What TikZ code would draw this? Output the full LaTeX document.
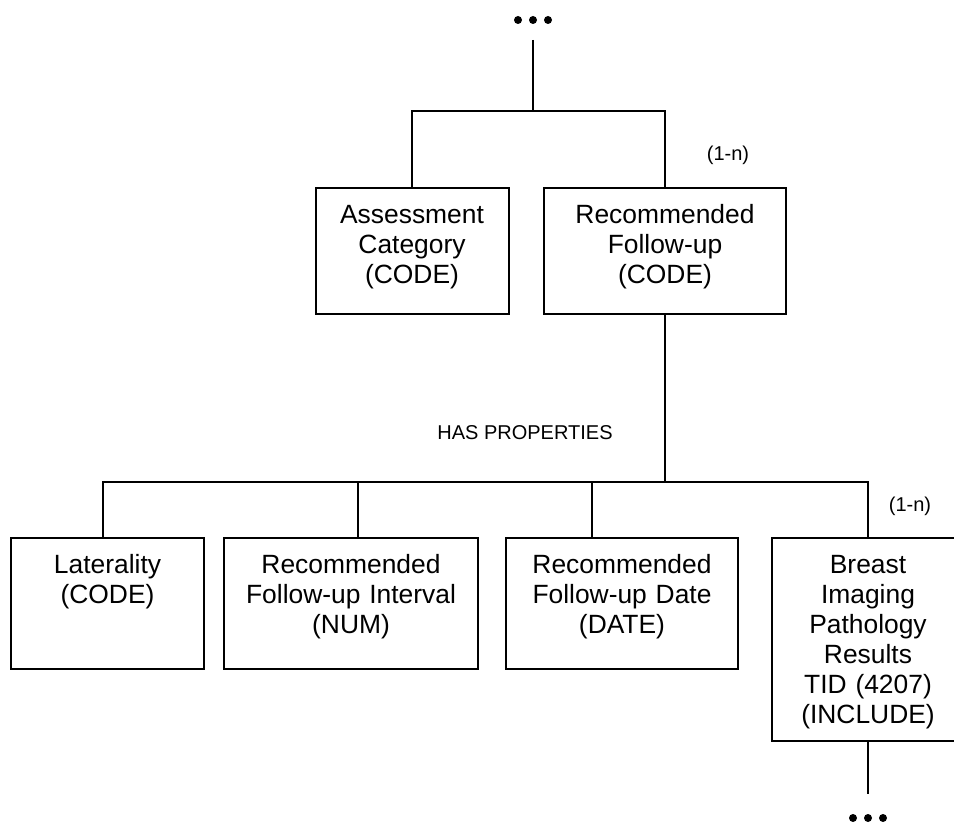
\documentclass[tikz,border=0pt]{standalone}
\usepackage{fontspec}
\setmainfont{Liberation Sans}
\begin{document}
\begin{tikzpicture}[x=0.5pt,y=-0.5pt,
  box/.style={draw, line width=1pt, inner sep=0pt, align=center, anchor=north,
    font=\fontsize{13.2}{15}\selectfont, text height=18pt},
  small/.style={font=\fontsize{10}{12}\selectfont, inner sep=0pt},
  link/.style={line width=1pt},
  dotnode/.style={inner sep=0pt, minimum size=0pt}]
\useasboundingbox (0,0) rectangle (954,823);

% top level boxes
\node[box, text width=96.5pt, text depth=45pt] (asc) at (412,187) {Assessment\\Category\\(CODE)};
\node[box, text width=121pt, text depth=45pt] (rfu) at (665,187) {Recommended\\Follow-up\\(CODE)};

% bottom level boxes
\node[box, text width=96.5pt, text depth=47.5pt] (lat) at (107.5,537) {Laterality\\(CODE)};
\node[box, text width=127pt, text depth=47.5pt] (int) at (351,537) {Recommended\\Follow-up Interval\\(NUM)};
\node[box, text width=116pt, text depth=47.5pt] (dat) at (622,537) {Recommended\\Follow-up Date\\(DATE)};
\node[box, text width=96.5pt, text depth=83.5pt] (bip) at (868,537) {Breast\\Imaging\\Pathology\\Results\\TID (4207)\\(INCLUDE)};

% labels
\node[small] (card1) at (728,155) {(1-n)};
\node[small] (card2) at (910,506) {(1-n)};
\node[small] (hasprop) at (525,433) {HAS PROPERTIES};

% ellipses
\node[dotnode] (dots1) at (533,20) {};
\node[dotnode] (dots2) at (868,818) {};
\foreach \d in {-15,0,15} {
  \fill ([xshift=\d*0.5pt]dots1.center) circle (2pt);
  \fill ([xshift=\d*0.5pt]dots2.center) circle (2pt);
}

% connectors top
\coordinate (t1) at (533,40);
\coordinate (j1) at (533,111);
\draw[link] (t1) -- (j1);
\draw[link] (asc.north) |- (j1);
\draw[link] (rfu.north) |- (j1);

% connectors bottom
\coordinate (j2) at (665,482);
\draw[link] (rfu.south) -- (j2);
\draw[link] ([xshift=-2.25pt]lat.north) |- (j2);
\draw[link] ([xshift=3.5pt]int.north) |- (j2);
\draw[link] ([xshift=-15pt]dat.north) |- (j2);
\draw[link] (bip.north) |- (j2);
\coordinate (b2) at (868,794);
\draw[link] (bip.south) -- (b2);
\end{tikzpicture}
\end{document}
